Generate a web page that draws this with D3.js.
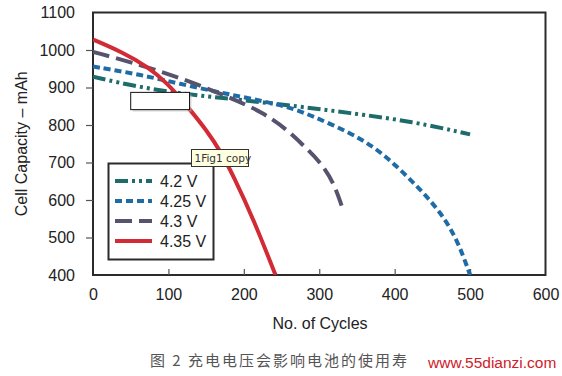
<!DOCTYPE html>
<html>
<head>
<meta charset="utf-8">
<script src="https://cdn.jsdelivr.net/npm/d3@7"></script>
<style>
  body { margin: 0; background: #fff; }
  svg { display: block; font-family: "Liberation Sans", Arial, sans-serif; }
</style>
</head>
<body>
<div id="chart"></div>
<script>
// values: [cycles, mAh]
const v420 = [[0, 929], [62, 900], [129, 881], [182, 870], [275, 849], [337, 833], [425, 809], [500, 775]]
const v425 = [[0, 956], [62, 935], [129, 903], [195, 876], [258, 850], [292, 823], [337, 783], [372, 743], [403, 690], [434, 628], [461, 567], [483, 495], [500, 400]]
const v430 = [[0, 995], [53, 966], [116, 926], [182, 873], [226, 833], [258, 786], [275, 753], [301, 703], [319, 647], [330, 583]]
const v435 = [[0, 1028], [40, 993], [72, 956], [98, 913], [125, 850], [151, 785], [169, 730], [186, 665], [213, 548], [242, 400]]

const seriesNames = ['4.2 V', '4.25 V', '4.3 V', '4.35 V']
const seriesValues = [v420, v425, v430, v435]
const seriesColors = ['#1d6c6b', '#1f6ba6', '#56536e', '#d22b35']
const seriesDash = ['13,4,3,4,3,4', '7,4', '17,7', null]

const xTicks = [0, 100, 200, 300, 400, 500, 600]
const yTicks = [400, 500, 600, 700, 800, 900, 1000, 1100]

const width = 562, height = 376
const svg = d3.select('#chart').append('svg')
    .attr('width', width)
    .attr('height', height)

const x = d3.scaleLinear().domain([0, 600]).range([93, 545.5])
const y = d3.scaleLinear().domain([400, 1100]).range([275, 12.5])

const plot = svg.append('g')

// frame
plot.append('rect')
    .attr('x', x(0))
    .attr('y', y(1100))
    .attr('width', x(600) - x(0))
    .attr('height', y(400) - y(1100))
    .attr('fill', 'none')
    .attr('stroke', '#2b2b2b')
    .attr('stroke-width', 2)

// x axis, ticks pointing inside
const xAxis = d3.axisBottom(x).tickValues(xTicks).tickSize(-6).tickPadding(14).tickFormat(d3.format('d'))
plot.append('g')
    .attr('transform', `translate(0, ${y(400)})`)
    .call(xAxis)
    .call(g => g.select('.domain').remove())
    .call(g => g.selectAll('.tick line').attr('stroke', '#555').attr('stroke-width', 1.2)
        .filter(d => d === 0 || d === 600).remove())
    .call(g => g.selectAll('.tick text').style('font-size', '16px').attr('fill', '#222'))

// y axis, ticks outside
const yAxis = d3.axisLeft(y).tickValues(yTicks).tickSize(7).tickPadding(11).tickFormat(d3.format('d'))
plot.append('g')
    .attr('transform', `translate(${x(0)}, 0)`)
    .call(yAxis)
    .call(g => g.select('.domain').remove())
    .call(g => g.selectAll('.tick line').attr('stroke', '#555').attr('stroke-width', 1.2)
        .filter(d => d === 400 || d === 1100).remove())
    .call(g => g.selectAll('.tick text').style('font-size', '16px').attr('fill', '#222'))

// axis titles
svg.append('text')
    .text('No. of Cycles')
    .attr('x', 320)
    .attr('y', 329)
    .attr('text-anchor', 'middle')
    .style('font-size', '16px')
    .attr('fill', '#222')

svg.append('text')
    .text('Cell Capacity – mAh')
    .attr('transform', `translate(27, ${y(750)}) rotate(-90)`)
    .attr('text-anchor', 'middle')
    .style('font-size', '16px')
    .attr('fill', '#222')

// curves
const line = d3.line()
    .x(d => x(d[0]))
    .y(d => y(d[1]))
    .curve(d3.curveBasis)

svg.append('clipPath').attr('id', 'plotclip')
    .append('rect')
    .attr('x', x(0)).attr('y', y(1100))
    .attr('width', x(600) - x(0)).attr('height', y(400) - y(1100))

const curves = plot.append('g').attr('clip-path', 'url(#plotclip)')
seriesValues.forEach((vals, i) => {
    curves.append('path')
        .datum(vals)
        .attr('d', line)
        .attr('fill', 'none')
        .attr('stroke', seriesColors[i])
        .attr('stroke-width', 4)
        .attr('stroke-dasharray', seriesDash[i])
})

// stray black box from the source figure
plot.append('rect')
    .attr('x', x(50) + 2)
    .attr('y', y(887) + 2)
    .attr('width', x(128) - x(50))
    .attr('height', y(841) - y(887))
    .attr('fill', '#bbb')
    .attr('opacity', 0.5)
plot.append('rect')
    .attr('x', x(50))
    .attr('y', y(887))
    .attr('width', x(128) - x(50))
    .attr('height', y(841) - y(887))
    .attr('fill', '#fff')
    .attr('stroke', '#111')
    .attr('stroke-width', 1)

// legend
const legend = plot.append('g')
legend.append('rect')
    .attr('x', 108.5)
    .attr('y', 163.5)
    .attr('width', 105)
    .attr('height', 96)
    .attr('fill', '#fff')
    .attr('stroke', '#2b2b2b')
    .attr('stroke-width', 2)

seriesNames.forEach((name, i) => {
    const ly = 181 + i * 20
    legend.append('line')
        .attr('x1', 115).attr('x2', 152)
        .attr('y1', ly).attr('y2', ly)
        .attr('stroke', seriesColors[i])
        .attr('stroke-width', 4)
        .attr('stroke-dasharray', seriesDash[i])
    legend.append('text')
        .text(name)
        .attr('x', 160)
        .attr('y', ly + 6)
        .style('font-size', '16px')
        .attr('fill', '#222')
})

// tooltip label
const tip = plot.append('g').attr('transform', 'translate(191.5, 149.5)')
tip.append('rect')
    .attr('width', 57)
    .attr('height', 17)
    .attr('fill', '#ffffe1')
    .attr('stroke', '#333')
    .attr('stroke-width', 1)
tip.append('text')
    .text('1Fig1 copy')
    .attr('x', 3)
    .attr('y', 12.5)
    .style('font-size', '10.5px')
    .style('font-family', '"DejaVu Sans", sans-serif')
    .attr('fill', '#333')

// caption and watermark
svg.append('text')
    .text('图 2 充电电压会影响电池的使用寿')
    .attr('x', 150)
    .attr('y', 366)
    .style('font-family', '"Noto Sans CJK SC", sans-serif')
    .style('font-size', '15px')
    .style('letter-spacing', '2px')
    .attr('fill', '#555')

svg.append('text')
    .text('www.55dianzi.com')
    .attr('x', 428)
    .attr('y', 368)
    .style('font-size', '15.5px')
    .attr('fill', '#d0202a')
</script>
</body>
</html>
